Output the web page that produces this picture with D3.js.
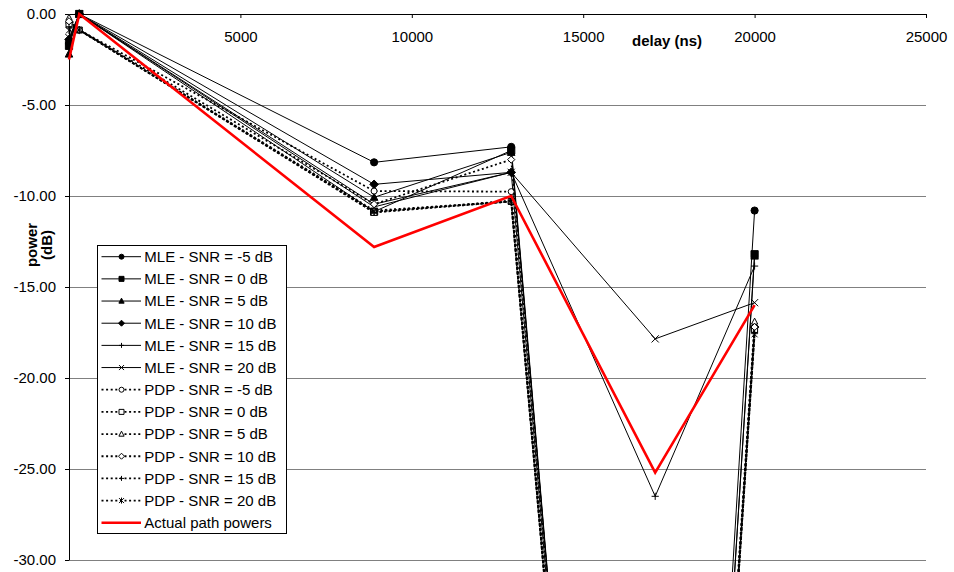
<!DOCTYPE html>
<html>
<head>
<meta charset="utf-8">
<script src="https://cdn.jsdelivr.net/npm/d3@7"></script>
<style>
  body { margin: 0; background: #fff; }
  svg { display: block; font-family: "Liberation Sans", Arial, sans-serif; }
</style>
</head>
<body>
<div id="chart"></div>
<script>
// Path delays (ns)
const delays = [0, 300, 8900, 12900, 17100, 20000];

// Estimated powers (dB); -100 = path not found (drawn off the chart)
const mleSnrM5 = [-1.6, 0, -8.15, -7.3, -100, -10.8];
const mleSnr0 = [-1.75, 0, -10.86, -7.5, -100, -13.2];
const mleSnr5 = [-2.2, 0, -10.07, -7.6, -100, -13.3];
const mleSnr10 = [-1.4, 0, -9.36, -8.7, -100, -17.2];
const mleSnr15 = [-1.5, 0, -10.45, -8.7, -26.5, -13.85];
const mleSnr20 = [-1.3, 0, -10.6, -8.7, -17.85, -15.86];
const pdpSnrM5 = [-0.5, -0.88, -9.73, -9.76, -100, -17.3];
const pdpSnr0 = [-0.6, -0.88, -10.9, -10.3, -100, -17.4];
const pdpSnr5 = [-0.2, -0.88, -10.8, -10.3, -100, -16.9];
const pdpSnr10 = [-0.4, -0.88, -10.45, -8.0, -100, -17.2];
const pdpSnr15 = [-0.7, -0.88, -10.9, -10.25, -100, -17.5];
const pdpSnr20 = [-0.9, -0.88, -10.85, -10.3, -100, -17.6];
const actualPower = [-2.5, 0, -12.8, -10.0, -25.2, -16.0];

const seriesNames = [
  'MLE - SNR = -5 dB', 'MLE - SNR = 0 dB', 'MLE - SNR = 5 dB',
  'MLE - SNR = 10 dB', 'MLE - SNR = 15 dB', 'MLE - SNR = 20 dB',
  'PDP - SNR = -5 dB', 'PDP - SNR = 0 dB', 'PDP - SNR = 5 dB',
  'PDP - SNR = 10 dB', 'PDP - SNR = 15 dB', 'PDP - SNR = 20 dB',
  'Actual path powers'
];
const seriesValues = [
  mleSnrM5, mleSnr0, mleSnr5, mleSnr10, mleSnr15, mleSnr20,
  pdpSnrM5, pdpSnr0, pdpSnr5, pdpSnr10, pdpSnr15, pdpSnr20,
  actualPower
];
const seriesMarkers = [
  'circle', 'square', 'triangle', 'diamond', 'plus', 'cross',
  'circle', 'square', 'triangle', 'diamond', 'plus', 'star',
  null
];

const xTicks = [5000, 10000, 15000, 20000, 25000];
const yTicks = [0, -5, -10, -15, -20, -25, -30];

const width = 954;
const height = 572;

const svg = d3.select('#chart')
  .append('svg')
    .attr('width', width)
    .attr('height', height);

// Scales
const xScale = d3.scaleLinear().domain([0, 25000]).range([69, 926]);
const yScale = d3.scaleLinear().domain([-30, 0]).range([560, 14]);

// Gridlines
svg.append('g')
  .selectAll('line')
  .data(yTicks.filter((d) => d !== 0))
  .join('line')
    .attr('x1', xScale(0) + 0.5)
    .attr('x2', xScale(25000))
    .attr('y1', (d) => yScale(d) + 0.5)
    .attr('y2', (d) => yScale(d) + 0.5)
    .attr('stroke', '#808080')
    .attr('stroke-width', 1);

// Axes
const xAxis = svg.append('g')
  .attr('transform', `translate(0,${yScale(0)})`)
  .call(d3.axisBottom(xScale)
    .tickValues(xTicks)
    .tickSize(4)
    .tickSizeOuter(0)
    .tickPadding(13.6)
    .tickFormat((d) => String(d)));

const yAxis = svg.append('g')
  .attr('transform', `translate(${xScale(0)},0)`)
  .call(d3.axisLeft(yScale)
    .tickValues(yTicks)
    .tickSize(4)
    .tickSizeOuter(0)
    .tickPadding(9)
    .tickFormat((d) => d.toFixed(2)));

svg.selectAll('.tick text')
  .attr('font-size', 15)
  .attr('font-family', '"Liberation Sans", Arial, sans-serif')
  .attr('fill', '#000');
svg.selectAll('.domain, .tick line').attr('stroke', '#000');

// Axis titles
svg.append('text')
  .attr('x', 632)
  .attr('y', 46)
  .attr('font-size', 15)
  .attr('font-weight', 'bold')
  .text('delay (ns)');

svg.append('text')
  .attr('transform', 'translate(37,245) rotate(-90)')
  .attr('text-anchor', 'middle')
  .attr('font-size', 15)
  .attr('font-weight', 'bold')
  .text('power');

svg.append('text')
  .attr('transform', 'translate(52,245) rotate(-90)')
  .attr('text-anchor', 'middle')
  .attr('font-size', 15)
  .attr('font-weight', 'bold')
  .text('(dB)');

// Marker shapes
const markerPath = (type, s) => {
  const cross = `M${-s},${-s}L${s},${s}M${-s},${s}L${s},${-s}`;
  switch (type) {
    case 'circle': return d3.symbol(d3.symbolCircle, Math.PI * s * s)();
    case 'square': return `M${-s},${-s}h${2 * s}v${2 * s}h${-2 * s}Z`;
    case 'triangle': return `M0,${-s * 1.15}L${s * 1.05},${s * 0.85}L${-s * 1.05},${s * 0.85}Z`;
    case 'diamond': return `M0,${-s * 1.2}L${s * 1.2},0L0,${s * 1.2}L${-s * 1.2},0Z`;
    case 'plus': return `M${-s},0H${s}M0,${-s}V${s}`;
    case 'cross': return cross;
    case 'star': return `${cross}M0,${-s * 1.2}V${s * 1.2}`;
  }
};

const isPdp = (i) => i >= 6 && i < 12;
const isActual = (i) => i === 12;

const styleLine = (sel, i) => sel
  .attr('fill', 'none')
  .attr('stroke', isActual(i) ? '#ff0000' : '#000')
  .attr('stroke-width', isActual(i) ? 2.6 : (isPdp(i) ? 1.8 : 1))
  .attr('stroke-dasharray', isPdp(i) ? '2,2.6' : null);

const styleMarker = (sel, i) => sel
  .attr('fill', isPdp(i) ? '#fff' : '#000')
  .attr('stroke', '#000')
  .attr('stroke-width', 1);

// Series
const line = d3.line()
  .x((d) => xScale(d[0]))
  .y((d) => yScale(d[1]));

seriesValues.forEach((values, i) => {
  const points = delays.map((d, k) => [d, values[k]]);
  const g = svg.append('g');

  g.append('path')
    .attr('d', line(points))
    .call(styleLine, i);

  if (seriesMarkers[i]) {
    const size = isPdp(i) ? 3 : 3.6;
    g.selectAll('path.marker')
      .data(points)
      .join('path')
        .attr('class', 'marker')
        .attr('transform', (d) => `translate(${xScale(d[0])},${yScale(d[1])})`)
        .attr('d', markerPath(seriesMarkers[i], size))
        .call(styleMarker, i);
  }
});

// Legend
const legend = svg.append('g');
legend.append('rect')
  .attr('x', 97.5)
  .attr('y', 245.5)
  .attr('width', 189)
  .attr('height', 288)
  .attr('fill', '#fff')
  .attr('stroke', '#000');

const rowY = (i) => 256.7 + i * 22.17;

seriesNames.forEach((name, i) => {
  const row = legend.append('g')
    .attr('transform', `translate(0,${rowY(i)})`);

  row.append('line')
    .attr('x1', 101.5)
    .attr('x2', 141)
    .attr('y1', 0)
    .attr('y2', 0)
    .call(styleLine, i);

  if (seriesMarkers[i]) {
    row.append('path')
      .attr('transform', 'translate(121.5,0)')
      .attr('d', markerPath(seriesMarkers[i], 2.5))
      .call(styleMarker, i);
  }

  row.append('text')
    .attr('x', 144.3)
    .attr('y', 5.3)
    .attr('font-size', 15)
    .text(name);
});
</script>
</body>
</html>
